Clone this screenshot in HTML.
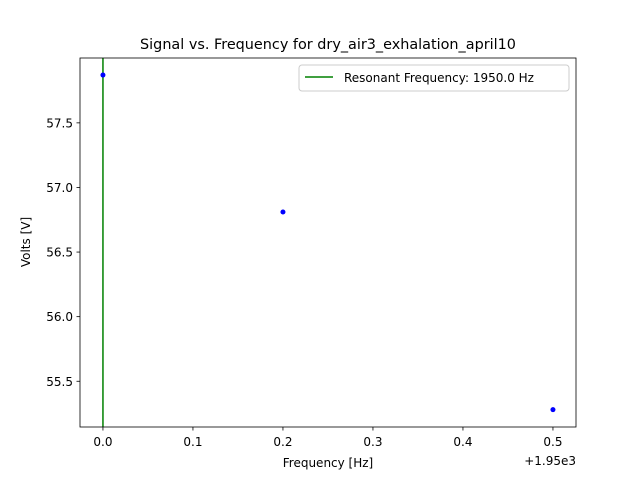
<!DOCTYPE html>
<html><head><meta charset="utf-8"><style>
body{margin:0;background:#fff;}
svg{display:block;font-family:"DejaVu Sans","Liberation Sans",sans-serif;}
</style></head><body>
<svg id="chart" width="640" height="480" viewBox="0 0 640 480">
<rect x="0" y="0" width="640" height="480" fill="#fff"/>
<text x="328" y="49" font-size="14.4" text-anchor="middle">Signal vs. Frequency for dry_air3_exhalation_april10</text>
<g id="xticks"></g>
<g id="yticks"></g>
<g id="marks"></g>
<rect x="80" y="58" width="496" height="369" fill="none" stroke="#000" stroke-width="0.8"/>
<text x="328" y="467" font-size="12" text-anchor="middle">Frequency [Hz]</text>
<text x="576" y="465" font-size="12" text-anchor="end">+1.95e3</text>
<text transform="translate(30,242) rotate(-90)" font-size="12" text-anchor="middle">Volts [V]</text>
<g>
<rect x="299" y="65" width="270" height="26" rx="3" fill="#fff" stroke="#ccc" stroke-width="1"/>
<line x1="305" y1="77" x2="333" y2="77" stroke="green" stroke-width="1.5"/>
<text x="344" y="82" font-size="12">Resonant Frequency: 1950.0 Hz</text>
</g>
</svg>
<script>
const freqs=[0.0,0.2,0.5];
const volts=[57.87,56.81,55.28];
const xTicks=[0.0,0.1,0.2,0.3,0.4,0.5];
const yTicks=[55.5,56.0,56.5,57.0,57.5];
const resonant=0.0;
const X0=-0.0255,X1=0.5256,Y0=55.146,Y1=58.002;
const sx=v=>80+(v-X0)/(X1-X0)*496;
const sy=v=>427-(v-Y0)/(Y1-Y0)*369;
const NS="http://www.w3.org/2000/svg";
function mk(tag,attrs,parent){const e=document.createElementNS(NS,tag);for(const k in attrs)e.setAttribute(k,attrs[k]);parent.appendChild(e);return e;}
const gx=document.getElementById('xticks'),gy=document.getElementById('yticks'),gm=document.getElementById('marks');
xTicks.forEach(t=>{const x=sx(t);
const l=mk('line',{x1:x,x2:x,y1:427,y2:430.5,stroke:'#000','stroke-width':0.8},gx);


const tx=mk('text',{x:x,y:446,'font-size':12,'text-anchor':'middle'},gx);tx.textContent=t.toFixed(1);

});
yTicks.forEach(t=>{const y=sy(t);
const l=mk('line',{x1:76.5,x2:80,y1:y,y2:y,stroke:'#000','stroke-width':0.8},gy);


const tx=mk('text',{x:73,y:y+4.5,'font-size':12,'text-anchor':'end'},gy);tx.textContent=t.toFixed(1);

});
const rl=mk('line',{x1:sx(resonant),x2:sx(resonant),y1:58,y2:427,stroke:'green','stroke-width':1.5},gm);


freqs.forEach((f,i)=>{const c=mk('circle',{cx:sx(f),cy:sy(volts[i]),r:2.5,fill:'blue'},gm);

});
</script>
</body></html>
